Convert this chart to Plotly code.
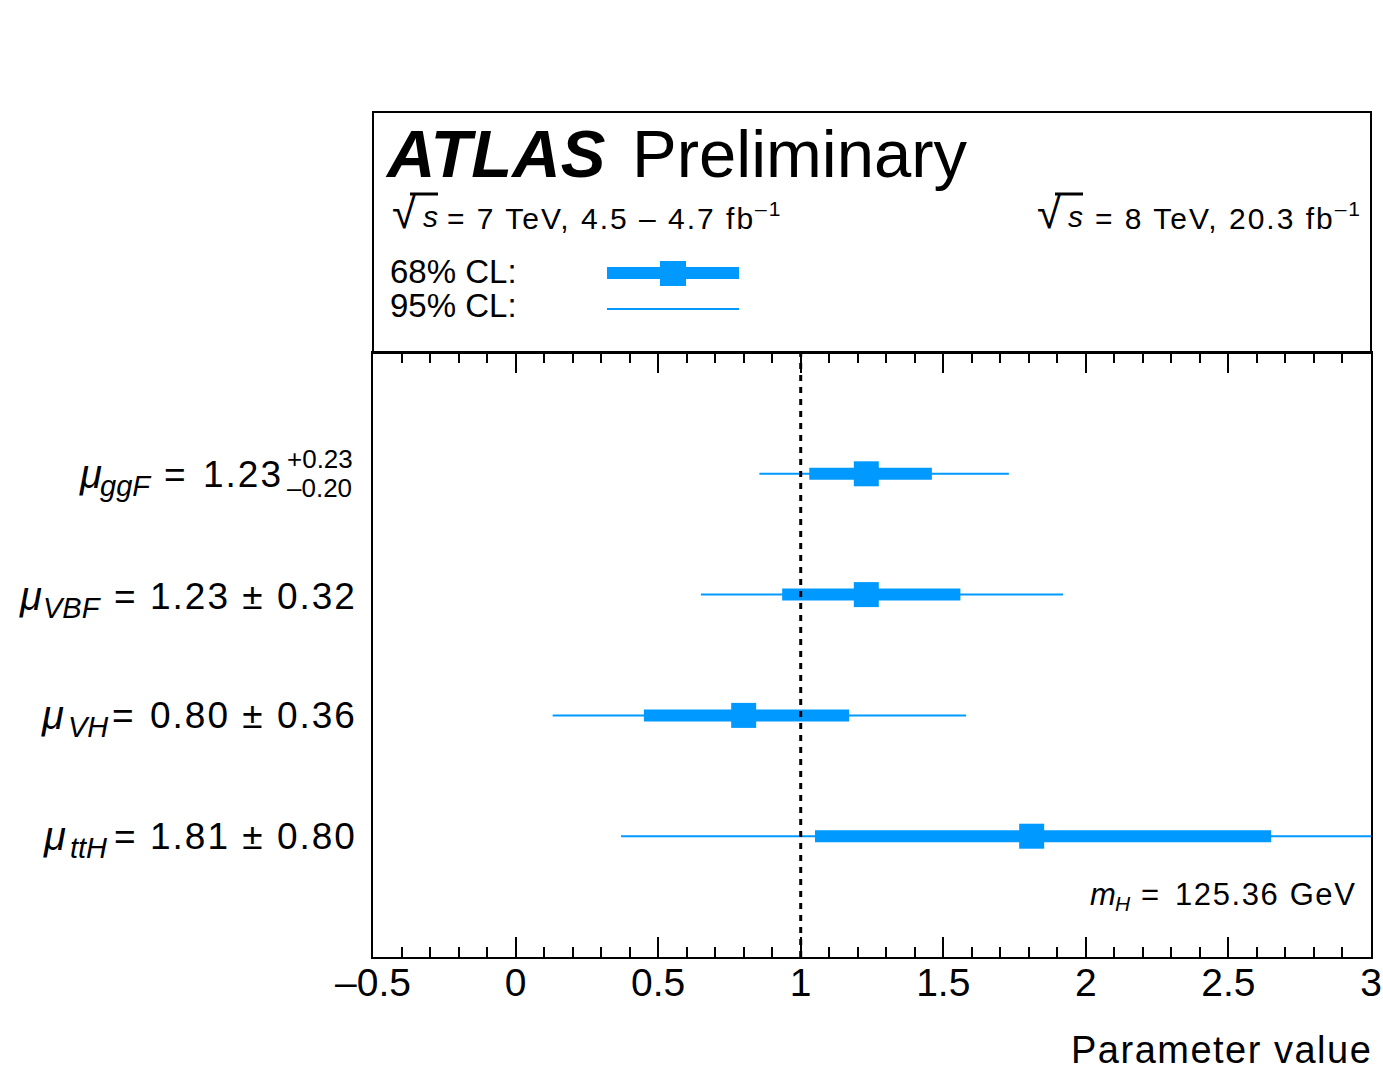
import plotly.graph_objects as go

# ---- data ----
labels = ["ttH", "VH", "VBF", "ggF"]
ypos = [1, 2, 3, 4]
central = [1.81, 0.80, 1.23, 1.23]
lo68 = [1.05, 0.45, 0.935, 1.03]
hi68 = [2.65, 1.17, 1.56, 1.46]
lo95 = [0.37, 0.13, 0.65, 0.855]
hi95 = [3.4, 1.58, 1.92, 1.73]
value_text = ["1.81 \u00b1 0.80", "0.80 \u00b1 0.36", "1.23 \u00b1 0.32", None]
tick_vals = [-0.5, 0, 0.5, 1, 1.5, 2, 2.5, 3]
tick_text = ["\u20130.5", "0", "0.5", "1", "1.5", "2", "2.5", "3"]

BLUE = "#0099ff"
FONT = "Liberation Sans, Arial, sans-serif"

def seg(lo, hi, y):
    xs, ys = [], []
    for a, b, c in zip(lo, hi, y):
        xs += [a, b, None]
        ys += [c, c, None]
    return xs, ys

fig = go.Figure()
x95, y95 = seg(lo95, hi95, ypos)
fig.add_trace(go.Scatter(x=x95, y=y95, mode="lines", line=dict(color=BLUE, width=2), showlegend=False))
x68, y68 = seg(lo68, hi68, ypos)
fig.add_trace(go.Scatter(x=x68, y=y68, mode="lines", line=dict(color=BLUE, width=12), showlegend=False))
fig.add_trace(go.Scatter(x=central, y=ypos, mode="markers",
                         marker=dict(symbol="square", size=25, color=BLUE, line=dict(width=0)),
                         showlegend=False))

W, H = 1383, 1070
L, R, T, B = 373, 12, 353, 113
pw, ph = W - L - R, H - T - B

def px(x):
    return (x - L) / pw

def py(y):
    return (H - B - y) / ph

fig.update_layout(
    width=W, height=H, autosize=False,
    margin=dict(l=L, r=R, t=T, b=B, pad=0, autoexpand=False),
    paper_bgcolor="white", plot_bgcolor="white",
    font=dict(family=FONT, color="black"),
    xaxis=dict(range=[-0.5, 3], tickvals=tick_vals, ticktext=tick_text, automargin=False,
               ticks="inside", ticklen=20, tickwidth=2, tickcolor="black",
               showline=True, linecolor="black", linewidth=2, mirror="ticks",
               showgrid=False, zeroline=False,
               tickfont=dict(size=39, family=FONT), ticklabelstandoff=-10,
               minor=dict(dtick=0.1, ticks="inside", ticklen=10, tickwidth=2,
                          tickcolor="black", showgrid=False)),
    yaxis=dict(range=[0, 5], showticklabels=False, ticks="", automargin=False,
               showline=True, linecolor="black", linewidth=2, mirror=True,
               showgrid=False, zeroline=False),
)

shapes = []
shapes.append(dict(type="rect", xref="paper", yref="paper", x0=0, x1=1, y0=1, y1=py(112),
                   line=dict(color="black", width=2)))
shapes.append(dict(type="line", xref="x", yref="paper", x0=1, x1=1, y0=0, y1=1,
                   line=dict(color="black", width=3, dash="6px,6px")))
shapes.append(dict(type="line", xref="paper", yref="paper", x0=px(607), x1=px(739), y0=py(273), y1=py(273),
                   line=dict(color=BLUE, width=12)))
shapes.append(dict(type="rect", xref="paper", yref="paper", x0=px(660), x1=px(686), y0=py(286), y1=py(261),
                   fillcolor=BLUE, line=dict(width=0)))
shapes.append(dict(type="line", xref="paper", yref="paper", x0=px(607), x1=px(739), y0=py(309), y1=py(309),
                   line=dict(color=BLUE, width=2)))
# overlines of the square roots
for x0, x1 in [(410, 438), (1055, 1083)]:
    shapes.append(dict(type="line", xref="paper", yref="paper", x0=px(x0), x1=px(x1), y0=py(194), y1=py(194),
                       line=dict(color="black", width=3)))
fig.update_layout(shapes=shapes)

ann = []
def text(x, y, t, size, xanchor="left", yanchor="middle", ls=0):
    if ls:
        t = "<span style='letter-spacing:%gpx'>%s</span>" % (ls, t)
    ann.append(dict(xref="paper", yref="paper", x=px(x), y=py(y), text=t, showarrow=False,
                    xanchor=xanchor, yanchor=yanchor, font=dict(size=size, family=FONT, color="black")))

text(383, 153, "<b><i>ATLAS</i></b>", 67)
text(630, 153, "Preliminary", 67)

# sqrt(s) lines
text(390, 213, "\u221a", 44)
text(1035, 213, "\u221a", 44)
text(421, 216, "<i>s</i>", 30)
text(1066, 216, "<i>s</i>", 30)
text(445, 216, "= 7 TeV, 4.5 \u2013 4.7 fb<sup>\u20131</sup>", 30, ls=2.0)
text(1364, 216, "= 8 TeV, 20.3 fb<sup>\u20131</sup>", 30, xanchor="right", ls=2.0)

text(388, 271, "68% CL:", 33)
text(388, 305, "95% CL:", 33)

# parameter labels
mu_x = [41, 39, 17, 77]
sub_x = [68, 66, 41, 98]
eq_x = [125, 123, 125, 175]
rows_y = [836, 715, 596, 474]
for name, mx, sx, ex, yy, vt in zip(labels, mu_x, sub_x, eq_x, rows_y, value_text):
    text(mx, yy, "<i>\u03bc</i>", 40)
    text(sx, yy + 12, "<i>%s</i>" % name, 29)
    text(ex, yy, "=", 37, xanchor="center")
    if vt is not None:
        text(359, yy, vt, 37, xanchor="right", ls=2.0)

text(285, 474, "1.23", 37, xanchor="right", ls=2.0)
text(285, 459, "+0.23", 26)
text(285, 488, "\u20130.20", 26)

text(1088, 894, "<i>m</i>", 31)
text(1113, 903, "<i>H</i>", 21)
text(1150, 894, "=", 31, xanchor="center")
text(1358, 894, "125.36 GeV", 31, xanchor="right", ls=1.6)
text(1374, 1050, "Parameter value", 38, xanchor="right", ls=1.5)

fig.update_layout(annotations=ann)
fig.write_html("out.html", config={"responsive": False})
